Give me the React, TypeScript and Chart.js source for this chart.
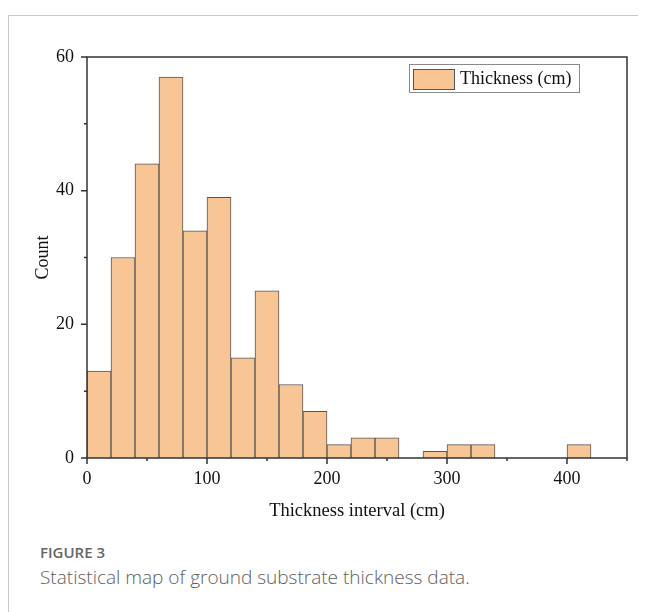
import React, { useEffect, useRef } from 'react';
import { Chart, registerables } from 'chart.js';

Chart.register(...registerables);

// ---- data ----
const binStarts = [0, 20, 40, 60, 80, 100, 120, 140, 160, 180, 200, 220, 240, 260, 280, 300, 320, 340, 360, 380, 400];
const counts = [13, 30, 44, 57, 34, 39, 15, 25, 11, 7, 2, 3, 3, 0, 1, 2, 2, 0, 0, 0, 2];
const BIN_WIDTH = 20;
const xTickValues = [0, 100, 200, 300, 400];
const xMinorValues = [50, 150, 250, 350, 450];
const yTickValues = [0, 20, 40, 60];
const yMinorValues = [10, 30, 50];
const seriesLabel = 'Thickness (cm)';
const xTitle = 'Thickness interval (cm)';
const yTitle = 'Count';
const captionHead = 'FIGURE 3';
const captionText = 'Statistical map of ground substrate thickness data.';

const FILL = '#F8C594';
const EDGE = '#555555';
const AXIS = '#333333';
const SERIF = '"Liberation Serif", "Times New Roman", serif';

const framePlugin = {
  id: 'framePlugin',
  afterDatasetsDraw(chart: any) {
    const { ctx, chartArea: a, scales } = chart;
    const xs = scales.x;
    const ys = scales.y;
    ctx.save();
    ctx.strokeStyle = AXIS;
    ctx.lineWidth = 1.5;
    ctx.strokeRect(a.left, a.top, a.right - a.left, a.bottom - a.top);
    ctx.lineWidth = 1.5;
    ctx.beginPath();
    const ticks = (vals: number[], len: number, axis: 'x' | 'y') => {
      vals.forEach((v) => {
        if (axis === 'x') {
          const p = xs.getPixelForValue(v);
          ctx.moveTo(p, a.bottom);
          ctx.lineTo(p, a.bottom + len);
        } else {
          const p = ys.getPixelForValue(v);
          ctx.moveTo(a.left, p);
          ctx.lineTo(a.left - len, p);
        }
      });
    };
    ticks(xTickValues, 6, 'x');
    ticks(xMinorValues, 3, 'x');
    ticks(yTickValues, 6, 'y');
    ticks(yMinorValues, 3, 'y');
    ctx.stroke();

    // legend
    const label = chart.data.datasets[0].label;
    const bw = 170;
    const bh = 28;
    const bx = a.right - 48 - bw;
    const by = a.top + 7;
    ctx.fillStyle = '#ffffff';
    ctx.fillRect(bx, by, bw, bh);
    ctx.strokeStyle = '#8a8a8a';
    ctx.lineWidth = 1;
    ctx.strokeRect(bx + 0.5, by + 0.5, bw, bh);
    ctx.fillStyle = FILL;
    ctx.fillRect(bx + 4, by + 5, 41, 20);
    ctx.strokeStyle = EDGE;
    ctx.strokeRect(bx + 4.5, by + 5.5, 41, 20);
    ctx.fillStyle = '#111111';
    ctx.font = `18px ${SERIF}`;
    ctx.textBaseline = 'middle';
    ctx.textAlign = 'left';
    ctx.fillText(label, bx + 51, by + bh / 2 + 1);
    ctx.restore();
  },
};

export default function App() {
  const ref = useRef<HTMLCanvasElement | null>(null);

  useEffect(() => {
    if (!ref.current) return;
    const data = binStarts.map((s, i) => ({ x: s + BIN_WIDTH / 2, y: counts[i] }));
    const chart = new Chart(ref.current, {
      type: 'bar',
      data: {
        datasets: [
          {
            label: seriesLabel,
            data,
            backgroundColor: FILL,
            borderColor: EDGE,
            borderWidth: 1,
            barPercentage: 1,
            categoryPercentage: 1,
          } as any,
        ],
      },
      options: {
        animation: false,
        responsive: false,
        maintainAspectRatio: false,
        layout: { padding: { top: 27, right: 19, left: 0, bottom: 0 } },
        plugins: {
          legend: { display: false },
          tooltip: { enabled: false },
        },
        scales: {
          x: {
            type: 'linear',
            min: 0,
            max: 450,
            offset: false,
            grid: { display: false, offset: false },
            border: { display: false },
            afterBuildTicks: (s: any) => {
              s.ticks = xTickValues.map((v) => ({ value: v }));
            },
            afterFit: (s: any) => {
              s.height = 72;
            },
            ticks: {
              padding: 2,
              color: '#111111',
              font: { family: SERIF, size: 18 },
              maxRotation: 0,
            },
            title: {
              display: true,
              text: xTitle,
              color: '#111111',
              font: { family: SERIF, size: 18.5 },
              padding: { top: 0, bottom: 8 },
            },
          },
          y: {
            type: 'linear',
            min: 0,
            max: 60,
            grid: { display: false },
            border: { display: false },
            afterBuildTicks: (s: any) => {
              s.ticks = yTickValues.map((v) => ({ value: v }));
            },
            afterFit: (s: any) => {
              s.width = 79;
            },
            ticks: {
              padding: 5,
              color: '#111111',
              font: { family: SERIF, size: 18 },
            },
            title: {
              display: true,
              text: yTitle,
              color: '#111111',
              font: { family: SERIF, size: 18 },
              padding: { top: 24, bottom: 0 },
            },
          },
        },
      } as any,
      plugins: [framePlugin],
    });
    return () => chart.destroy();
  }, []);

  return (
    <div style={{ position: 'relative', height: 604, overflow: 'hidden' }}>
      <div
        style={{
          position: 'absolute',
          left: 0,
          top: 7,
          width: 700,
          height: 700,
          borderLeft: '1px solid #c8c8c8',
          borderTop: '1px solid #c8c8c8',
        }}
      />
      <canvas
        ref={ref}
        width={638}
        height={500}
        style={{ position: 'absolute', left: 0, top: 22, width: 638, height: 500 }}
      />
      <div
        style={{
          position: 'absolute',
          left: 32,
          top: 535,
          fontFamily: '"Open Sans", sans-serif',
          fontWeight: 600,
          fontSize: 15,
          color: '#666666',
          lineHeight: '18px',
          whiteSpace: 'nowrap',
        }}
      >
        {captionHead}
      </div>
      <div
        style={{
          position: 'absolute',
          left: 32,
          top: 557,
          fontFamily: '"Open Sans", sans-serif',
          fontWeight: 300,
          fontSize: 19,
          color: '#5e5e5e',
          lineHeight: '24px',
          whiteSpace: 'nowrap',
        }}
      >
        {captionText}
      </div>
    </div>
  );
}
